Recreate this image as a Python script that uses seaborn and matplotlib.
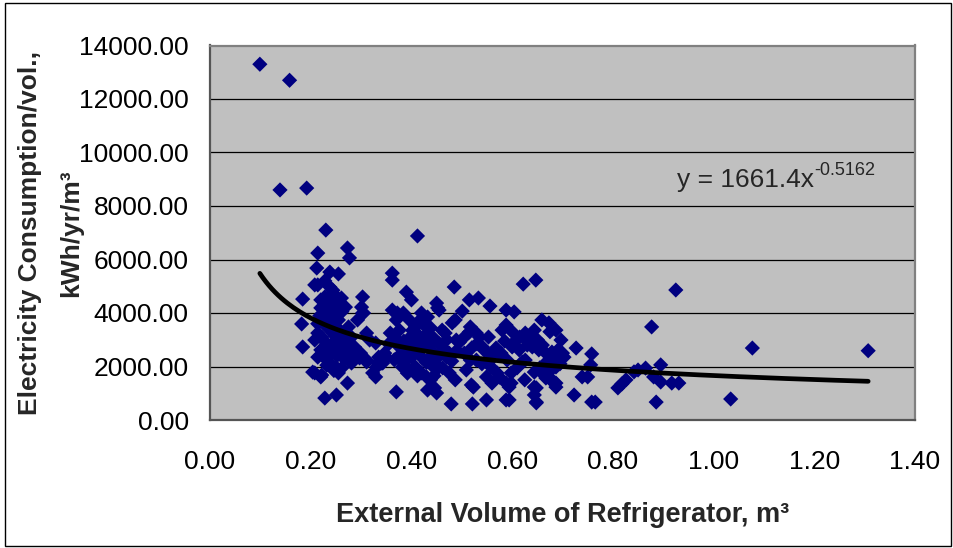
import matplotlib
matplotlib.use("Agg")
import matplotlib.pyplot as plt
import matplotlib.patches as mpatches
from matplotlib.ticker import FormatStrFormatter
import numpy as np
import pandas as pd
import seaborn as sns

# --- data ----------------------------------------------------------------
# isolated points (high outliers and the sparse tail at large volumes)
volume_sparse = [0.099, 0.158, 0.139, 0.192, 0.230, 0.412, 0.925, 0.877, 1.077, 1.034,
                 1.307, 0.886, 0.758, 0.723, 0.727, 0.758, 0.739, 0.750, 0.810, 0.818,
                 0.826, 0.842, 0.865, 0.895, 0.881, 0.895, 0.917, 0.931, 0.756, 0.850,
                 0.765, 0.700, 0.693]
consumption_sparse = [13300, 12700, 8600, 8670, 7100, 6880, 4860, 3480, 2690, 785,
                      2590, 670, 670, 935, 2690, 2470, 1610, 1610, 1200, 1350,
                      1500, 1800, 1940, 2060, 1610, 1420, 1380, 1380, 2060, 1870,
                      670, 2500, 2240]

# small units, about 0.18 - 0.35 m3
volume_small = [0.214, 0.273, 0.277, 0.212, 0.238, 0.255, 0.208, 0.184, 0.303, 0.301,
                0.303, 0.293, 0.182, 0.184, 0.204, 0.222, 0.228, 0.251, 0.273, 0.297,
                0.311, 0.323, 0.333, 0.283, 0.311, 0.331, 0.343, 0.214, 0.238, 0.244,
                0.250, 0.220, 0.220, 0.261, 0.269, 0.226, 0.232, 0.214, 0.208, 0.250,
                0.255, 0.244, 0.250, 0.261, 0.220, 0.214, 0.275, 0.281, 0.305, 0.317,
                0.250, 0.255, 0.275, 0.281, 0.287, 0.299, 0.311, 0.329, 0.335, 0.208,
                0.220, 0.228, 0.234, 0.240, 0.246, 0.252, 0.236, 0.242, 0.248, 0.258,
                0.264, 0.230, 0.238, 0.244, 0.252, 0.260, 0.268, 0.226, 0.234, 0.266,
                0.272, 0.256, 0.262, 0.244, 0.228, 0.218, 0.214, 0.222, 0.232, 0.246,
                0.262]
consumption_small = [6240, 6430, 6060, 5680, 5530, 5460, 5050, 4520, 4600, 4220,
                     4000, 3740, 3590, 2730, 1790, 1680, 820, 935, 1380, 2320,
                     2170, 1760, 2130, 2350, 3250, 1980, 2130, 5050, 4970, 4750,
                     4490, 4490, 4190, 4560, 4220, 3850, 3480, 3250, 2990, 4000,
                     3740, 3250, 2990, 2730, 2620, 2350, 3480, 3100, 4000, 2990,
                     1980, 1760, 2350, 2130, 2730, 2500, 2240, 2880, 2350, 1760,
                     1610, 4600, 4300, 4100, 3900, 3700, 3650, 3400, 3150, 3350,
                     3050, 2900, 2750, 2550, 2400, 2600, 2850, 2450, 2200, 2300,
                     2650, 4300, 4050, 4850, 5200, 3900, 3600, 3100, 2050, 1850,
                     1950]

# mid-size units, about 0.33 - 0.50 m3
volume_mid = [0.362, 0.362, 0.390, 0.400, 0.485, 0.452, 0.362, 0.481, 0.461, 0.370,
              0.432, 0.450, 0.479, 0.376, 0.382, 0.370, 0.376, 0.489, 0.430, 0.446,
              0.372, 0.384, 0.396, 0.358, 0.372, 0.347, 0.341, 0.329, 0.384, 0.396,
              0.420, 0.432, 0.408, 0.432, 0.450, 0.455, 0.420, 0.444, 0.432, 0.408,
              0.420, 0.438, 0.467, 0.487, 0.461, 0.475, 0.455, 0.475, 0.487, 0.395,
              0.405, 0.415, 0.425, 0.435, 0.410, 0.420, 0.430, 0.440, 0.400, 0.390,
              0.385, 0.445, 0.455, 0.465, 0.470, 0.448, 0.425, 0.415, 0.438, 0.392,
              0.412, 0.445, 0.462, 0.402, 0.378, 0.366, 0.355, 0.350, 0.480, 0.490,
              0.495, 0.470, 0.458]
consumption_mid = [5490, 5230, 4780, 4490, 4970, 4190, 4110, 3630, 3360, 1050,
                   1120, 1010, 600, 2730, 1980, 3740, 3360, 2990, 1610, 1200,
                   4000, 4000, 3740, 3250, 2990, 2500, 2130, 1610, 2130, 1870,
                   4000, 3850, 3480, 3250, 4370, 4110, 2730, 2500, 2240, 1980,
                   1760, 1500, 3250, 3740, 2730, 2500, 1980, 1760, 1500, 3050,
                   2850, 3150, 2950, 2750, 2550, 2350, 2150, 2050, 2350, 2650,
                   2950, 3050, 2850, 2650, 2350, 2300, 3550, 3700, 3450, 1750,
                   1650, 1650, 1950, 3350, 2450, 2250, 2850, 2350, 2200, 2600,
                   2900, 3000, 2450]

# larger units, about 0.50 - 0.72 m3
volume_large = [0.515, 0.533, 0.556, 0.501, 0.588, 0.604, 0.622, 0.647, 0.659, 0.673,
                0.687, 0.697, 0.644, 0.588, 0.580, 0.515, 0.535, 0.521, 0.549, 0.588,
                0.648, 0.644, 0.519, 0.560, 0.588, 0.594, 0.549, 0.683, 0.667, 0.568,
                0.574, 0.529, 0.509, 0.608, 0.600, 0.628, 0.640, 0.653, 0.667, 0.679,
                0.693, 0.703, 0.620, 0.644, 0.659, 0.673, 0.687, 0.667, 0.648, 0.644,
                0.648, 0.598, 0.598, 0.594, 0.517, 0.529, 0.553, 0.541, 0.505, 0.517,
                0.578, 0.590, 0.558, 0.570, 0.523, 0.626, 0.638, 0.614, 0.626, 0.679,
                0.687, 0.679, 0.687, 0.505, 0.530, 0.545, 0.560, 0.540, 0.555, 0.520,
                0.600, 0.615, 0.630, 0.650, 0.660, 0.670, 0.690, 0.675, 0.585, 0.575,
                0.625, 0.610, 0.655, 0.695]
consumption_large = [4490, 4560, 4260, 4070, 4110, 4040, 5080, 5230, 3740, 3630,
                     3360, 2990, 3360, 3550, 3360, 3290, 3100, 600, 750, 750,
                     640, 1230, 1310, 1380, 1380, 1230, 1610, 1380, 1760, 2690,
                     2500, 2240, 1870, 2990, 2730, 2990, 2730, 2620, 2500, 2540,
                     2350, 2350, 2170, 1790, 1760, 1790, 1380, 1570, 1200, 935,
                     670, 1760, 1380, 750, 3480, 3250, 3100, 2730, 2500, 2240,
                     2500, 2240, 1980, 1760, 1230, 3250, 2990, 2620, 2240, 2240,
                     1980, 1500, 1230, 3100, 2850, 2600, 2400, 2100, 2200, 2700,
                     3300, 3100, 2800, 3000, 2800, 2200, 2600, 3300, 2950, 1600,
                     1500, 1950, 1950, 2100]

# power trend line reported on the chart: y = 1661.4 x^-0.5162
trend_coef = 1661.4
trend_exp = -0.5162

x_ticks = [0.0, 0.2, 0.4, 0.6, 0.8, 1.0, 1.2, 1.4]
y_ticks = [0, 2000, 4000, 6000, 8000, 10000, 12000, 14000]

df = pd.DataFrame({
    "volume": volume_sparse + volume_small + volume_mid + volume_large,
    "consumption": consumption_sparse + consumption_small + consumption_mid + consumption_large,
})

sns.set_style("white")
plt.rcParams["font.family"] = ["Liberation Sans", "DejaVu Sans"]

fig = plt.figure(figsize=(9.54, 5.48), dpi=100)
ax = fig.add_axes([210 / 954, 1 - 420 / 548, 705 / 954, 374.5 / 548])
ax.set_facecolor("#C0C0C0")

sns.scatterplot(data=df, x="volume", y="consumption", marker="D", s=60,
                color="#000080", edgecolor="none", linewidth=0, ax=ax, zorder=3)

trend_x = np.linspace(df["volume"].min(), df["volume"].max(), 200)
trend_y = trend_coef * trend_x ** trend_exp
sns.lineplot(x=trend_x, y=trend_y, color="black", linewidth=3.4, ax=ax,
             zorder=4, sort=False)

ax.set_xlim(0, 1.4)
ax.set_ylim(0, 14000)
ax.set_xticks(x_ticks)
ax.set_yticks(y_ticks)
ax.xaxis.set_major_formatter(FormatStrFormatter("%.2f"))
ax.yaxis.set_major_formatter(FormatStrFormatter("%.2f"))
ax.yaxis.grid(True, color="black", linewidth=0.9)
ax.xaxis.grid(False)
ax.set_axisbelow(True)

ax.tick_params(axis="both", direction="out", length=5.8, width=1.1,
               color="#606060", labelsize=19, labelcolor="black")
ax.tick_params(axis="y", pad=9.5)
ax.tick_params(axis="x", pad=15.5)

for side in ["left", "bottom"]:
    ax.spines[side].set_color("#555555")
    ax.spines[side].set_linewidth(1.6)
for side in ["top", "right"]:
    ax.spines[side].set_color("#808080")
    ax.spines[side].set_linewidth(1.6)

ax.set_xlabel("External Volume of Refrigerator, m³", fontsize=19.5, fontweight="bold")
ax.xaxis.set_label_coords(0.5, -0.218)
ax.set_ylabel("Electricity Consumption/vol.,\nkWh/yr/m³", fontsize=19,
              fontweight="bold", linespacing=1.9)
ax.yaxis.set_label_coords(-0.180, 0.5)

eq = ax.text(0.927, 8710, "y = 1661.4x", fontsize=19,
             ha="left", va="baseline", zorder=5)
ax.annotate(f"{trend_exp}", xy=(1.0, 0.0), xycoords=eq, xytext=(0.5, 12),
            textcoords="offset points", fontsize=13, ha="left", va="baseline",
            zorder=5)

fig.patches.append(mpatches.Rectangle((5 / 954, 2 / 548), 946 / 954, 543 / 548,
                                      transform=fig.transFigure, fill=False,
                                      edgecolor="black", linewidth=1.0))

fig.savefig("out.png", dpi=100)
plt.close(fig)
